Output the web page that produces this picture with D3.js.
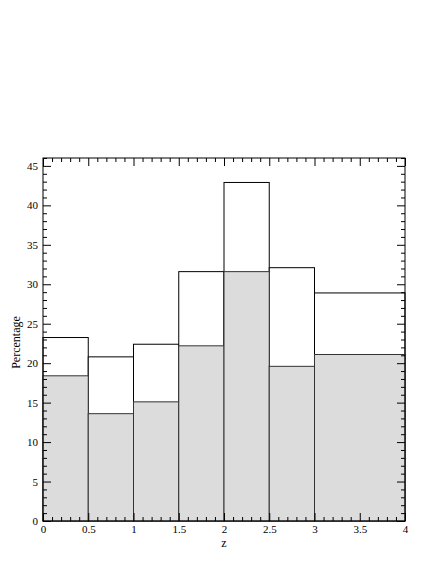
<!DOCTYPE html>
<html><head><meta charset="utf-8">
<script src="https://cdn.jsdelivr.net/npm/d3@7"></script>
<style>body{margin:0;background:#fff}</style>
</head><body>
<div id="chart"></div>
<script>
const binStart = [0, 0.5, 1, 1.5, 2, 2.5, 3];
const binEnd   = [0.5, 1, 1.5, 2, 2.5, 3, 4];
const totalPct = [23.25, 20.8, 22.4, 31.6, 42.9, 32.1, 28.9];
const grayPct  = [18.4, 13.6, 15.1, 22.2, 31.6, 19.6, 21.1];
const xTicks = [0, 0.5, 1, 1.5, 2, 2.5, 3, 3.5, 4];
const xTickLabels = ["0", "0.5", "1", "1.5", "2", "2.5", "3", "3.5", "4"];
const yTicks = [0, 5, 10, 15, 20, 25, 30, 35, 40, 45];

const FONT = "'Liberation Serif', 'DejaVu Serif', serif";
const W = 436, H = 564;
const m = {left: 43, right: 31, top: 158, bottom: 43};
const svg = d3.select("#chart").append("svg").attr("width", W).attr("height", H);
const x = d3.scaleLinear().domain([0, 4]).range([m.left, W - m.right]);
const y = d3.scaleLinear().domain([0, 46]).range([H - m.bottom, m.top]);

const g = svg.append("g");
g.selectAll("rect.tot").data(totalPct).join("rect").attr("class", "tot")
  .attr("x", (d, i) => x(binStart[i])).attr("width", (d, i) => x(binEnd[i]) - x(binStart[i]))
  .attr("y", d => y(d)).attr("height", d => y(0) - y(d))
  .attr("fill", "#fff").attr("stroke", "#000").attr("stroke-width", 1);
g.selectAll("rect.gr").data(grayPct).join("rect").attr("class", "gr")
  .attr("x", (d, i) => x(binStart[i])).attr("width", (d, i) => x(binEnd[i]) - x(binStart[i]))
  .attr("y", d => y(d)).attr("height", d => y(0) - y(d))
  .attr("fill", "#dcdcdc").attr("stroke", "#333").attr("stroke-width", 1);

svg.append("rect").attr("x", x(0)).attr("y", y(46)).attr("width", x(4) - x(0)).attr("height", y(0) - y(46))
  .attr("fill", "none").attr("stroke", "#000").attr("stroke-width", 1);

const majL = 8, minL = 4;
const xMinor = d3.range(0, 4.0001, 0.1).filter(v => Math.abs(v * 2 - Math.round(v * 2)) > 1e-6);
const yMinor = d3.range(0, 46.0001, 1).filter(v => v % 5 !== 0);

function styleAxis(a) {
  a.select(".domain").remove();
  a.attr("font-family", FONT).attr("font-size", 11);
  a.selectAll("text").attr("fill", "#000");
}
svg.append("g").attr("transform", `translate(0,${y(0)})`)
  .call(d3.axisBottom(x).tickValues(xTicks).tickFormat((d, i) => xTickLabels[i]).tickSizeInner(-majL).tickSizeOuter(0).tickPadding(4))
  .call(styleAxis);
svg.append("g").attr("transform", `translate(0,${y(0)})`)
  .call(d3.axisBottom(x).tickValues(xMinor).tickFormat("").tickSizeInner(-minL).tickSizeOuter(0)).call(styleAxis);
svg.append("g").attr("transform", `translate(0,${y(46)})`)
  .call(d3.axisTop(x).tickValues(xTicks).tickFormat("").tickSizeInner(-majL).tickSizeOuter(0)).call(styleAxis);
svg.append("g").attr("transform", `translate(0,${y(46)})`)
  .call(d3.axisTop(x).tickValues(xMinor).tickFormat("").tickSizeInner(-minL).tickSizeOuter(0)).call(styleAxis);
svg.append("g").attr("transform", `translate(${x(0)},0)`)
  .call(d3.axisLeft(y).tickValues(yTicks).tickFormat(d3.format("d")).tickSizeInner(-majL).tickSizeOuter(0).tickPadding(5))
  .call(styleAxis);
svg.append("g").attr("transform", `translate(${x(0)},0)`)
  .call(d3.axisLeft(y).tickValues(yMinor).tickFormat("").tickSizeInner(-minL).tickSizeOuter(0)).call(styleAxis);
svg.append("g").attr("transform", `translate(${x(4)},0)`)
  .call(d3.axisRight(y).tickValues(yTicks).tickFormat("").tickSizeInner(-majL).tickSizeOuter(0)).call(styleAxis);
svg.append("g").attr("transform", `translate(${x(4)},0)`)
  .call(d3.axisRight(y).tickValues(yMinor).tickFormat("").tickSizeInner(-minL).tickSizeOuter(0)).call(styleAxis);

svg.append("text").attr("x", x(2)).attr("y", 547).attr("text-anchor", "middle")
  .attr("font-family", FONT).attr("font-size", 12).text("z");
svg.append("text").attr("transform", `translate(20,${(y(0) + y(46)) / 2 + 3}) rotate(-90)`).attr("text-anchor", "middle")
  .attr("font-family", FONT).attr("font-size", 12).text("Percentage");
</script>
</body></html>
